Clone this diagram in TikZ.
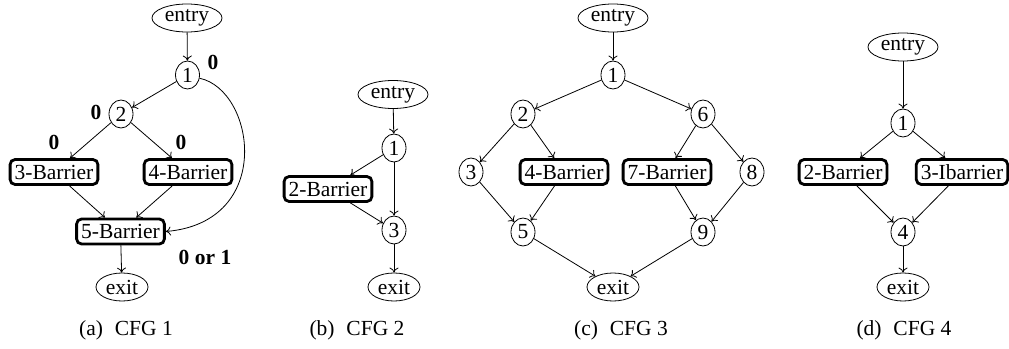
\documentclass[tikz,border=0pt]{standalone}
\usepackage{fontspec}
\setmainfont{Liberation Serif}
\usetikzlibrary{shapes.geometric,arrows.meta}
\begin{document}
\begin{tikzpicture}[x=1pt,y=-1pt,
  every node/.style={font=\fontsize{21.5}{25}\selectfont},
  num/.style={ellipse,draw,line width=0.8pt,inner sep=0pt,minimum width=24pt,minimum height=28pt},
  term/.style={ellipse,draw,line width=0.8pt,inner sep=0pt,minimum height=28pt},
  barrier/.style={draw,rounded corners=5pt,line width=2.8pt,inner xsep=4.5pt,inner ysep=0pt,minimum height=25pt},
  lbl/.style={font=\fontsize{21.5}{25}\selectfont\bfseries},
  captext/.style={font=\fontsize{21.5}{25}\selectfont},
  edge/.style={-{To[length=5pt,width=9pt]},line width=0.8pt}]
\useasboundingbox (0,0) rectangle (1009,348);
% CFG 1
\node[term,minimum width=70pt] (aentry) at (187,18) {entry};
\node[num] (a1) at (187.5,75) {1};
\node[num] (a2) at (121,114) {2};
\node[barrier] (a3) at (54,172) {3-Barrier};
\node[barrier] (a4) at (188,172) {4-Barrier};
\node[barrier] (a5) at (120.5,231.5) {5-Barrier};
\node[term,minimum width=52pt] (aexit) at (122,287) {exit};
\node[lbl] (l1) at (213,62) {0};
\node[lbl] (l2) at (96,112) {0};
\node[lbl] (l3) at (54,142) {0};
\node[lbl] (l4) at (181,142) {0};
\node[lbl] (l5) at (205,257) {0 or 1};
\node[captext] (capa) at (126,330) {(a)\hskip0.55em CFG 1};
\draw[edge] (aentry) -- (a1);
\draw[edge] (a1) -- (a2);
\draw[edge] (a2) -- (a3);
\draw[edge] (a2) -- (a4);
\draw[edge] (a3) -- (a5);
\draw[edge] (a4) -- (a5);
\draw[edge] (a5) -- (aexit);
\draw[edge] (a1.-15) .. controls (255,90) and (275,222) .. (a5.east);
% CFG 2
\node[term,minimum width=70pt] (bentry) at (393,94.5) {entry};
\node[num] (b1) at (394,148) {1};
\node[barrier] (b2) at (328,189) {2-Barrier};
\node[num] (b3) at (394,230) {3};
\node[term,minimum width=52pt] (bexit) at (394,287) {exit};
\node[captext] (capb) at (357,330) {(b)\hskip0.55em CFG 2};
\draw[edge] (bentry) -- (b1);
\draw[edge] (b1) -- (b2);
\draw[edge] (b1) -- (b3);
\draw[edge] (b2) -- (b3);
\draw[edge] (b3) -- (bexit);
% CFG 3
\node[term,minimum width=70pt] (centry) at (613,18) {entry};
\node[num] (c1) at (613,75) {1};
\node[num] (c2) at (523,114) {2};
\node[num] (c6) at (703,114) {6};
\node[num] (c3) at (471,172) {3};
\node[barrier] (c4) at (564,172) {4-Barrier};
\node[barrier] (c7) at (667,172) {7-Barrier};
\node[num] (c8) at (752,172) {8};
\node[num] (c5) at (523,232) {5};
\node[num] (c9) at (703,232) {9};
\node[term,minimum width=52pt] (cexit) at (613,287) {exit};
\node[captext] (capc) at (621,330) {(c)\hskip0.55em CFG 3};
\draw[edge] (centry) -- (c1);
\draw[edge] (c1) -- (c2);
\draw[edge] (c1) -- (c6);
\draw[edge] (c2) -- (c3);
\draw[edge] (c2) -- (c4);
\draw[edge] (c6) -- (c7);
\draw[edge] (c6) -- (c8);
\draw[edge] (c3) -- (c5);
\draw[edge] (c4) -- (c5);
\draw[edge] (c7) -- (c9);
\draw[edge] (c8) -- (c9);
\draw[edge] (c5) -- (cexit);
\draw[edge] (c9) -- (cexit);
% CFG 4
\node[term,minimum width=70pt] (dentry) at (903,47) {entry};
\node[num] (d1) at (903,123) {1};
\node[barrier] (d2) at (843,172) {2-Barrier};
\node[barrier] (d3) at (962,172) {3-Ibarrier};
\node[num] (d4) at (903,232) {4};
\node[term,minimum width=52pt] (dexit) at (903,287) {exit};
\node[captext] (capd) at (904,330) {(d)\hskip0.55em CFG 4};
\draw[edge] (dentry) -- (d1);
\draw[edge] (d1) -- (d2);
\draw[edge] (d1) -- (d3);
\draw[edge] (d2) -- (d4);
\draw[edge] (d3) -- (d4);
\draw[edge] (d4) -- (dexit);
\end{tikzpicture}
\end{document}
